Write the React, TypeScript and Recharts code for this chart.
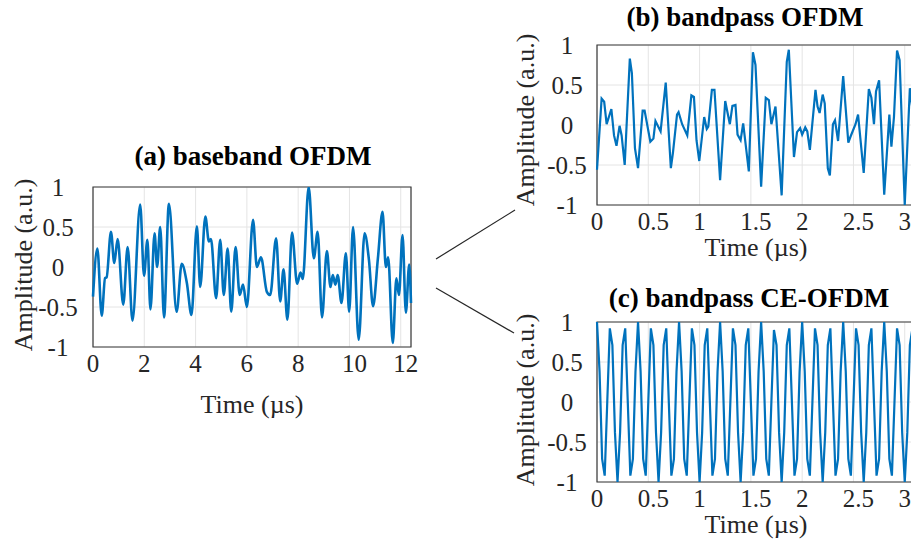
import React from "react";
import { LineChart, Line, XAxis, YAxis, CartesianGrid, ReferenceArea } from "recharts";

const FONT = '"Liberation Serif", "Times New Roman", serif';
const BLUE = "#0072BD";
const INK = "#262626";

// (a) baseband OFDM: [time µs, amplitude]
const basebandOFDM = [
  [0, -0.37], [0.17, 0.23], [0.34, -0.61], [0.47, -0.14], [0.53, -0.13], [0.7, 0.44],
  [0.83, 0.05], [0.96, 0.35], [1.18, -0.47], [1.35, 0.25], [1.54, -0.67], [1.84, 0.78],
  [1.99, -0.11], [2.12, 0.34], [2.24, -0.53], [2.4, 0.42], [2.5, 0.0], [2.62, 0.5],
  [2.77, -0.63], [2.96, 0.79], [3.26, -0.56], [3.46, 0.04], [3.66, -0.2], [3.84, -0.6],
  [4.05, 0.51], [4.18, -0.25], [4.38, 0.63], [4.52, 0.32], [4.6, 0.35], [4.8, -0.39],
  [4.96, 0.34], [5.1, -0.35], [5.25, 0.23], [5.39, -0.56], [5.56, 0.25], [5.72, -0.35],
  [5.85, -0.22], [6.0, -0.5], [6.24, 0.59], [6.39, 0.0], [6.55, 0.12], [6.78, -0.31],
  [6.91, -0.35], [7.14, 0.36], [7.3, -0.43], [7.43, -0.03], [7.58, -0.66], [7.76, 0.43],
  [7.96, -0.21], [8.09, -0.07], [8.18, -0.15], [8.41, 1.0], [8.61, 0.11], [8.76, 0.44],
  [8.93, -0.63], [9.12, 0.2], [9.26, -0.25], [9.35, -0.1], [9.45, -0.22], [9.54, -0.1],
  [9.69, -0.45], [9.86, 0.17], [9.99, -0.56], [10.14, 0.5], [10.36, -0.91], [10.59, 0.42],
  [10.76, 0.09], [10.92, -0.49], [11.11, 0.11], [11.29, 0.69], [11.42, 0.0], [11.51, 0.12],
  [11.69, -0.95], [11.83, -0.14], [11.93, -0.35], [12.07, 0.4], [12.2, -0.57], [12.33, 0.03],
  [12.4, -0.45],
];

// (b) bandpass OFDM: [time µs, amplitude]
const bandpassOFDM = [
  [0, -0.56], [0.045, 0.33], [0.07, 0.29], [0.094, 0.01], [0.14, 0.2], [0.166, -0.13],
  [0.19, -0.26], [0.22, -0.01], [0.24, -0.13], [0.27, -0.5], [0.32, 0.83], [0.34, 0.65],
  [0.37, -0.29], [0.4, -0.54], [0.445, 0.18], [0.464, 0.18], [0.52, -0.21], [0.55, -0.17],
  [0.57, 0.05], [0.62, -0.08], [0.67, 0.53], [0.72, -0.54], [0.74, -0.35], [0.78, 0.13],
  [0.795, 0.16], [0.83, 0.01], [0.88, -0.13], [0.92, 0.37], [0.945, 0.35], [0.97, -0.19],
  [0.997, -0.45], [1.045, 0.1], [1.07, -0.05], [1.085, -0.02], [1.12, 0.44], [1.145, 0.44],
  [1.2, -0.69], [1.25, 0.3], [1.295, 0.01], [1.32, 0.24], [1.35, 0.25], [1.37, -0.12],
  [1.4, -0.19], [1.425, 0.02], [1.48, -0.58], [1.52, 0.91], [1.545, 0.75], [1.6, -0.77],
  [1.645, 0.34], [1.675, 0.31], [1.7, 0.01], [1.74, 0.23], [1.8, -0.88], [1.85, 0.79],
  [1.87, 0.94], [1.92, -0.4], [1.95, -0.09], [1.98, -0.04], [2.0, -0.12], [2.03, -0.03],
  [2.05, -0.08], [2.075, -0.31], [2.13, 0.44], [2.15, 0.23], [2.17, 0.15], [2.2, 0.38],
  [2.22, 0.27], [2.25, -0.54], [2.27, -0.63], [2.3, 0.01], [2.32, 0.06], [2.35, -0.2],
  [2.4, 0.61], [2.45, -0.22], [2.47, -0.15], [2.52, 0.01], [2.545, 0.13], [2.6, -0.6],
  [2.65, 0.45], [2.675, 0.34], [2.7, 0.01], [2.72, 0.42], [2.75, 0.56], [2.8, -0.87],
  [2.85, 0.13], [2.87, -0.27], [2.895, 0.1], [2.925, 0.93], [2.95, 0.81], [3.0, -1.0],
  [3.05, 0.46], [3.075, 0.2],
];

// (c) bandpass CE-OFDM, one sample every 0.025 µs
const ceSampleUs = 0.025;
const bandpassCEOFDM = [
  1, 0.38, -0.71, -0.92, 0, 0.92, 0.71, -0.38, -1, -0.38, 0.71, 0.92, 0, -0.92, -0.71, 0.38,
  1, 0.38, -0.71, -0.92, 0, 0.92, 0.71, -0.38, -1, -0.38, 0.71, 0.92, 0, -0.92, -0.71, 0.38,
  1, 0.38, -0.71, -0.92, 0, 0.92, 0.71, -0.38, -1, -0.38, 0.71, 0.92, 0, -0.92, -0.71, 0.38,
  1, 0.38, -0.71, -0.92, 0, 0.92, 0.71, -0.38, -1, -0.38, 0.71, 0.92, 0, -0.92, -0.71, 0.38,
  1, 0.38, -0.71, -0.92, 0, 0.9, 0.71, -0.38, -1, -0.38, 0.71, 0.92, 0, -0.92, -0.71, 0.38,
  1, 0.38, -0.71, -0.92, 0, 0.92, 0.71, -0.38, -1, -0.38, 0.71, 0.92, 0, -0.92, -0.71, 0.38,
  1, 0.38, -0.71, -0.92, 0, 0.92, 0.71, -0.38, -1, -0.38, 0.71, 0.92, 0, -0.92, -0.71, 0.38,
  1, 0.38, -0.71, -0.92, 0, 0.92, 0.71, -0.38, -1, -0.38, 0.71, 0.92, 0,
];

const ampTicks = [-1, -0.5, 0, 0.5, 1];
const basebandTicks = [0, 2, 4, 6, 8, 10, 12];
const bandpassTicks = [0, 0.5, 1, 1.5, 2, 2.5, 3];

const pairsToRows = (pairs: number[][]) => pairs.map(([t, v]) => ({ t, v }));
const basebandRows = pairsToRows(basebandOFDM);
const bandpassRows = pairsToRows(bandpassOFDM);
const ceRows = bandpassCEOFDM.map((v, i) => ({ t: i * ceSampleUs, v }));

interface PanelProps {
  rows: { t: number; v: number }[];
  xMax: number;
  xTicks: number[];
  left: number;
  top: number;
  yAxisW: number;
  marginTop: number;
  xAxisH: number;
  xLabelOffset: number;
  yTickOff: number;
  yLabelX: number;
  yLabelDy: number;
  curve: "monotone" | "linear";
  strokeWidth: number;
}

function Panel(p: PanelProps) {
  const width = p.yAxisW + 318 + 10;
  const height = p.marginTop + 160 + p.xAxisH;
  return (
    <div style={{ position: "absolute", left: p.left, top: p.top }}>
      <LineChart
        width={width}
        height={height}
        data={p.rows}
        margin={{ top: p.marginTop, right: 10, bottom: 0, left: 0 }}
      >
        <CartesianGrid stroke="#e4e4e4" strokeWidth={1} />
        <XAxis
          dataKey="t"
          type="number"
          domain={[0, p.xMax]}
          ticks={p.xTicks}
          height={p.xAxisH}
          axisLine={false}
          tickLine={false}
          tickSize={0}
          tickMargin={0}
          interval={0}
          tick={(t: any) => (
            <text
              x={t.x + (String(t.payload.value).length > 1 ? 5 : 0)}
              y={t.y + 16}
              textAnchor="middle"
              dominantBaseline="central"
              fontFamily={FONT}
              fontSize={25}
              fill={INK}
            >
              {t.payload.value}
            </text>
          )}
          label={(l: any) => {
            const vb = l.viewBox;
            return (
              <text
                x={vb.x + vb.width / 2}
                y={vb.y + vb.height - p.xLabelOffset}
                textAnchor="middle"
                fontFamily={FONT}
                fontSize={26}
                fill={INK}
              >
                Time (µs)
              </text>
            );
          }}
        />
        <YAxis
          type="number"
          domain={[-1, 1]}
          ticks={ampTicks}
          width={p.yAxisW}
          axisLine={false}
          tickLine={false}
          tickSize={0}
          tickMargin={0}
          interval={0}
          allowDataOverflow
          tick={(t: any) => (
            <text
              x={t.x - p.yTickOff}
              y={t.y}
              textAnchor="middle"
              dominantBaseline="central"
              fontFamily={FONT}
              fontSize={25}
              fill={INK}
            >
              {t.payload.value}
            </text>
          )}
          label={(l: any) => {
            const vb = l.viewBox;
            const cx = vb.x + p.yLabelX;
            const cy = vb.y + vb.height / 2 + p.yLabelDy;
            return (
              <text
                x={cx}
                y={cy}
                transform={`rotate(-90, ${cx}, ${cy})`}
                textAnchor="middle"
                dominantBaseline="central"
                fontFamily={FONT}
                fontSize={26}
                fill={INK}
              >
                Amplitude (a.u.)
              </text>
            );
          }}
        />
        <ReferenceArea x1={0} x2={p.xMax} y1={-1} y2={1} fill="none" stroke="#3a3a3a" strokeWidth={1.2} />
        <Line
          type={p.curve}
          dataKey="v"
          stroke={BLUE}
          strokeWidth={p.strokeWidth}
          dot={false}
          isAnimationActive={false}
        />
      </LineChart>
    </div>
  );
}

export default function App() {
  return (
    <div
      style={{
        position: "fixed",
        left: 0,
        top: 0,
        width: 911,
        height: 540,
        overflow: "hidden",
        background: "#fff",
      }}
    >
      <Panel
        rows={basebandRows}
        xMax={12.4}
        xTicks={basebandTicks}
        left={0}
        top={140}
        yAxisW={93}
        marginTop={47}
        xAxisH={75}
        xLabelOffset={9}
        yTickOff={35}
        yLabelX={23}
        yLabelDy={-2}
        curve="monotone"
        strokeWidth={2.6}
      />
      <Panel
        rows={bandpassRows}
        xMax={3.1}
        xTicks={bandpassTicks}
        left={500}
        top={0}
        yAxisW={97}
        marginTop={45}
        xAxisH={62}
        xLabelOffset={11}
        yTickOff={30}
        yLabelX={25}
        yLabelDy={-5}
        curve="linear"
        strokeWidth={2.2}
      />
      <Panel
        rows={ceRows}
        xMax={3.1}
        xTicks={bandpassTicks}
        left={500}
        top={280}
        yAxisW={97}
        marginTop={42}
        xAxisH={58}
        xLabelOffset={7}
        yTickOff={30}
        yLabelX={25}
        yLabelDy={-2}
        curve="linear"
        strokeWidth={2.2}
      />
      <svg
        width={911}
        height={540}
        style={{ position: "absolute", left: 0, top: 0, pointerEvents: "none" }}
      >
        <g fontFamily={FONT} fontSize={27} fontWeight="bold" fill="#000" textAnchor="middle">
          <text x={253} y={165}>(a) baseband OFDM</text>
          <text x={745} y={26}>(b) bandpass OFDM</text>
          <text x={749} y={307}>(c) bandpass CE-OFDM</text>
        </g>
        <line x1={436} y1={259} x2={515} y2={210} stroke={INK} strokeWidth={1.2} />
        <line x1={436} y1={288} x2={514} y2={333} stroke={INK} strokeWidth={1.2} />
      </svg>
    </div>
  );
}
